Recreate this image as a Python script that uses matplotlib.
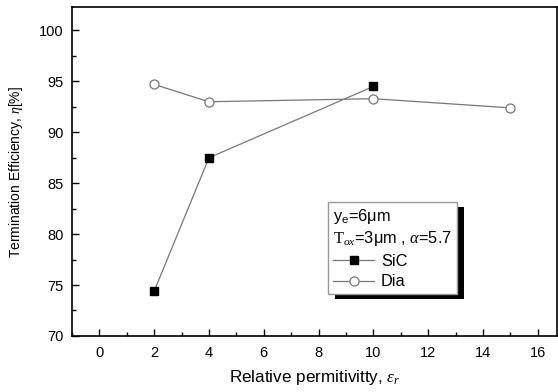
import matplotlib
matplotlib.use('Agg')
import matplotlib.pyplot as plt
from matplotlib.patches import Rectangle

plt.rcParams['font.family'] = ['Liberation Sans', 'DejaVu Sans']
plt.rcParams['mathtext.fontset'] = 'custom'
plt.rcParams['mathtext.rm'] = 'Liberation Serif'
plt.rcParams['mathtext.it'] = 'Liberation Serif:italic'

# data
sic_x = [2, 4, 10]
sic_y = [74.4, 87.5, 94.5]
dia_x = [2, 4, 10, 15]
dia_y = [94.7, 93.0, 93.3, 92.4]

fig = plt.figure(figsize=(5.58, 3.92), dpi=100)
ax = fig.add_axes([0.129, 0.143, 0.869, 0.839])

ax.plot(sic_x, sic_y, color='#777777', lw=0.9, marker='s', ms=5.3,
        mfc='black', mec='black', label='SiC')
ax.plot(dia_x, dia_y, color='#777777', lw=0.9, marker='o', ms=6.5,
        mfc='white', mec='#777777', mew=0.9, label='Dia')

ax.set_xlim(-1, 16.7)
ax.set_ylim(70, 102.3)
ax.set_xticks(range(0, 17, 2))
ax.set_xticks(range(-1, 17), minor=True)
ax.set_yticks(range(70, 101, 5))
ax.set_yticks([72.5 + 5 * i for i in range(6)], minor=True)
ax.tick_params(direction='in', labelsize=10.5, length=5, width=1)
ax.tick_params(which='minor', direction='in', length=3, width=1)
ax.tick_params(axis='x', pad=7)
ax.tick_params(axis='y', pad=6)
for s in ax.spines.values():
    s.set_linewidth(1.2)

ax.set_xlabel(r'Relative permitivitty, $\varepsilon_r$', fontsize=12.3, labelpad=6)
ax.set_ylabel(r'Termination Efficiency, $\eta$[%]', fontsize=10, labelpad=10)

leg = ax.legend(title='y$_\\mathregular{e}$=6\u03bcm\n$\\mathrm{T}_{ox}$=3\u03bcm , $\\alpha$=5.7',
                loc='upper left', bbox_to_anchor=(0.529, 0.407), borderaxespad=0,
                fontsize=11.8, title_fontsize=11.8, handlelength=2.5,
                handletextpad=0.4, labelspacing=0.35, borderpad=0.3,
                fancybox=False, edgecolor='#999999', framealpha=1)
leg._legend_box.align = 'left'
leg.set_zorder(5)
leg.get_frame().set_linewidth(1.0)

fig.canvas.draw()
bb = leg.get_window_extent()
shadow = Rectangle((bb.x0 + 7, bb.y0 - 5), bb.width, bb.height,
                   transform=None, facecolor='black', edgecolor='none', zorder=4)
ax.add_artist(shadow)

fig.savefig('out.png', dpi=100)
